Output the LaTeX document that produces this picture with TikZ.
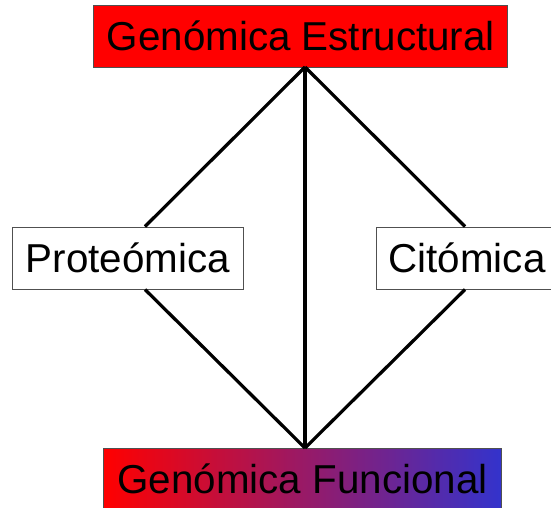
\documentclass[tikz,border=0pt]{standalone}
\usepackage{fontspec}
\setmainfont{Liberation Sans}
\usetikzlibrary{positioning}
\definecolor{topColor}{RGB}{255,0,0}
\definecolor{midColor}{RGB}{165,32,135}
\definecolor{endColor}{RGB}{51,51,204}
\definecolor{frameColor}{RGB}{80,80,80}

\begin{document}
\begin{tikzpicture}[
    x=0.025cm, y=-0.025cm,
    box/.style={draw=frameColor, line width=0.7pt, minimum height=1.55cm, inner sep=0pt, font=\fontsize{28.7}{34}\selectfont, text=black},
    link/.style={line width=2.3pt, black},
]
\useasboundingbox (0,0) rectangle (551,507);

% Top and bottom boxes
\node[box, fill=topColor, minimum width=10.35cm] (estr) at (300.75,36) {Genómica Estructural};
\node[box, left color=topColor, middle color=midColor, right color=endColor, minimum width=9.925cm] (func) at (302.5,479) {Genómica Funcional};

% Side boxes
\node[box, fill=white, minimum width=5.75cm] (prot) at (128,258) {Proteómica};
\node[box, fill=white, minimum width=4.5cm] (cito) at (467,258) {Citómica};

% Attachment points
\coordinate (apexT) at (305,67);
\coordinate (apexB) at (305,448);

% Connections
\draw[link] (apexT) -- (prot.north -| 145,0);
\draw[link] (apexT) -- (cito.north -| 465,0);
\draw[link] (apexT) -- (apexB);
\draw[link] (prot.south -| 145,0) -- (apexB);
\draw[link] (cito.south -| 465,0) -- (apexB);

\end{tikzpicture}
\end{document}
